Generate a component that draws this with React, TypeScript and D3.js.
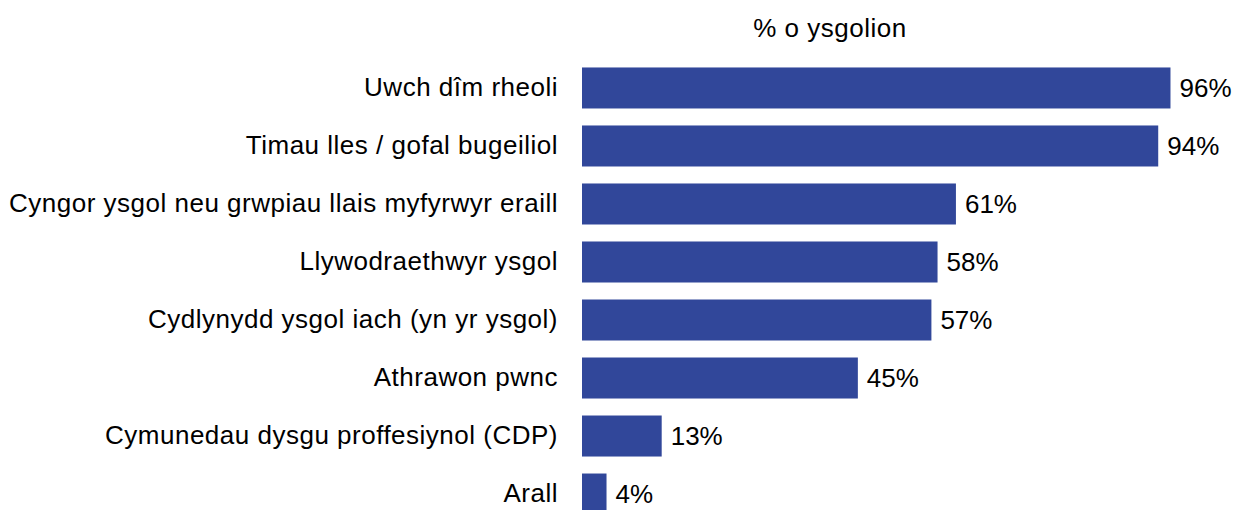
import React, { useEffect, useRef } from "react";
import * as d3 from "d3";

const categories = [
  "Uwch dîm rheoli",
  "Timau lles / gofal bugeiliol",
  "Cyngor ysgol neu grwpiau llais myfyrwyr eraill",
  "Llywodraethwyr ysgol",
  "Cydlynydd ysgol iach (yn yr ysgol)",
  "Athrawon pwnc",
  "Cymunedau dysgu proffesiynol (CDP)",
  "Arall",
];
const values = [96, 94, 61, 58, 57, 45, 13, 4];
const title = "% o ysgolion";

const App = () => {
  const ref = useRef<SVGSVGElement>(null);

  useEffect(() => {
    const svg = d3.select(ref.current);
    svg.selectAll("*").remove();

    const width = 1237;
    const height = 510;
    const left = 582;
    const font = "'Liberation Sans', Arial, sans-serif";

    const x = d3.scaleLinear().domain([0, 100]).range([left, left + 613]);
    const y = d3
      .scaleBand()
      .domain(categories)
      .range([59, 59 + 58 * categories.length])
      .paddingInner(0.293)
      .paddingOuter(0.146);

    svg.attr("width", width).attr("height", height);

    // title
    svg
      .append("text")
      .attr("x", 830)
      .attr("y", 37)
      .attr("text-anchor", "middle")
      .style("font-family", font)
      .style("font-size", "26px")
      .style("letter-spacing", "0.5px")
      .attr("fill", "#000")
      .text(title);

    const data = categories.map((c, i) => ({ name: c, value: values[i] }));

    // bars
    svg
      .selectAll("rect.bar")
      .data(data)
      .enter()
      .append("rect")
      .attr("class", "bar")
      .attr("x", x(0))
      .attr("y", (d) => y(d.name)!)
      .attr("width", (d) => x(d.value) - x(0))
      .attr("height", y.bandwidth())
      .attr("fill", "#31479A");

    // value labels
    svg
      .selectAll("text.val")
      .data(data)
      .enter()
      .append("text")
      .attr("class", "val")
      .attr("x", (d) => x(d.value) + 9)
      .attr("y", (d) => y(d.name)! + y.bandwidth() / 2)
      .attr("dy", "0.33em")
      .style("font-family", font)
      .style("font-size", "26px")
      .attr("fill", "#000")
      .text((d) => `${d.value}%`);

    // category labels
    svg
      .selectAll("text.cat")
      .data(data)
      .enter()
      .append("text")
      .attr("class", "cat")
      .attr("x", left - 24)
      .attr("y", (d) => y(d.name)! + y.bandwidth() / 2)
      .attr("dy", "0.31em")
      .attr("text-anchor", "end")
      .style("font-family", font)
      .style("font-size", "26px")
      .style("letter-spacing", "0.5px")
      .attr("fill", "#000")
      .text((d) => d.name);
  }, []);

  return (
    <svg
      ref={ref}
      style={{ position: "absolute", left: 0, top: 0, display: "block" }}
    ></svg>
  );
};

export default App;
